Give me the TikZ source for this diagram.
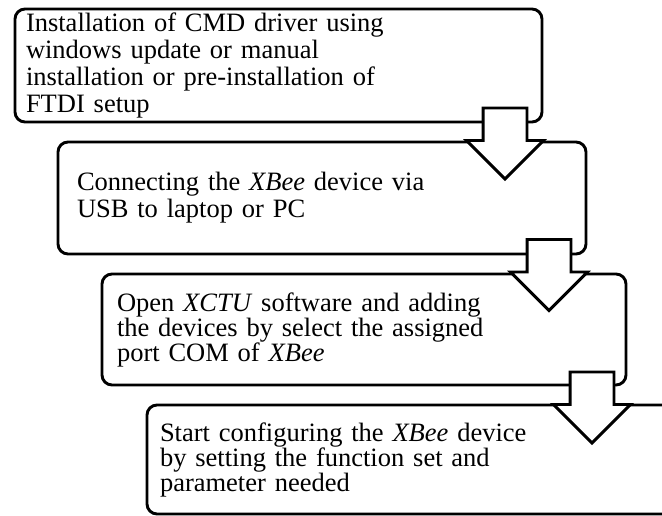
\documentclass[tikz,border=0pt]{standalone}
\usepackage{fontspec}
\setmainfont{Liberation Serif}
\usepackage{tikz}
\usetikzlibrary{shapes.arrows,calc}

\begin{document}
\begin{tikzpicture}[x=1pt, y=-1pt,
    stepbox/.style={draw, line width=2.9pt, rounded corners=10pt, anchor=north west,
        outer sep=0pt, inner ysep=0pt, align=left, font=\fontsize{26.5}{27}\selectfont},
    blockarrow/.style={single arrow, draw, fill=white, line width=2.9pt, rotate=-90,
        minimum height=71pt, inner xsep=0pt, inner ysep=20.5pt,
        single arrow head extend=16.5pt, single arrow head indent=0pt, outer sep=0pt}]
    % Frame
    \useasboundingbox (0,0) rectangle (662,516);
    \clip (0,0) rectangle (662,516);

    % Steps {box1, box2, box3, box4}
    \node [stepbox, minimum width=527pt, minimum height=113pt, inner xsep=11pt, text width=505pt]
        (box1) at (15,9)    {Installation of CMD driver using\\ windows update or manual\\ installation or pre-installation of\\ FTDI setup};
    \node [stepbox, minimum width=528pt, minimum height=112pt, inner xsep=19pt, text width=490pt]
        (box2) at (58,142)  {Connecting the \textit{XBee} device via\\ USB to laptop or PC};
    \node [stepbox, minimum width=524pt, minimum height=111pt, inner xsep=15pt, text width=494pt,
        font=\fontsize{26.5}{25}\selectfont]
        (box3) at (102,274) {Open \textit{XCTU} software and adding\\ the devices by select the assigned\\ port COM of \textit{XBee}};
    \node [stepbox, minimum width=545pt, minimum height=109pt, inner xsep=13pt, text width=519pt,
        font=\fontsize{26.5}{25}\selectfont]
        (box4) at (147,405) {Start configuring the \textit{XBee} device\\ by setting the function set and\\ parameter needed};

    % Arrows
    \node [blockarrow] (arr1) at ($(box1.south east)+(-37,10.5)$) {};
    \node [blockarrow] (arr2) at ($(box2.south east)+(-37,10)$)   {};
    \node [blockarrow] (arr3) at ($(box3.south east)+(-34,11.5)$) {};

\end{tikzpicture}
\end{document}
